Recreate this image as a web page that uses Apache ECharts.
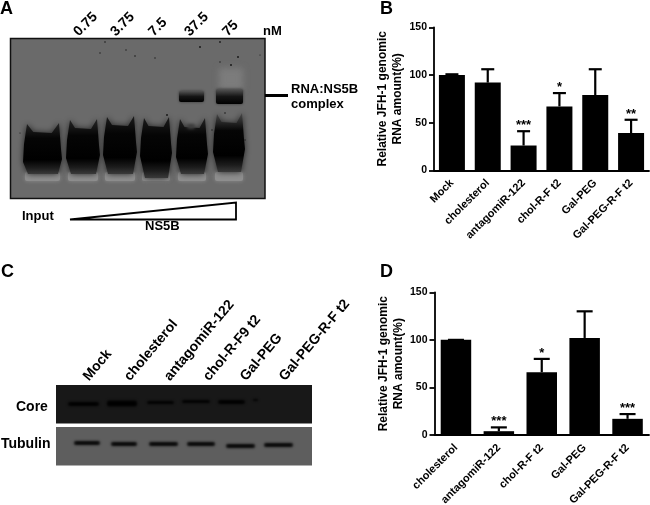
<!DOCTYPE html>
<html>
<head>
<meta charset="utf-8">
<style>
  html, body { margin: 0; padding: 0; background: #fff; }
  #chart { width: 650px; height: 505px; filter: blur(0.4px); }
</style>
<script src="https://cdn.jsdelivr.net/npm/echarts@6/dist/echarts.min.js"></script>
</head>
<body>
<div id="chart"></div>
<script>
const font = '"Liberation Sans", Arial, sans-serif'

// panel B
const categoriesB = ['Mock', 'cholesterol', 'antagomiR-122', 'chol-R-F t2', 'Gal-PEG', 'Gal-PEG-R-F t2']
const valuesB = [100, 92, 26, 67, 79, 39]
const upperB = [100.7, 106, 41, 81, 106, 53]
const starsB = ['', '', '***', '*', '', '**']

// panel D
const categoriesD = ['cholesterol', 'antagomiR-122', 'chol-R-F t2', 'Gal-PEG', 'Gal-PEG-R-F t2']
const valuesD = [100, 4, 66, 102, 17]
const upperD = [100, 8, 80, 130, 22]
const starsD = ['', '***', '*', '', '***']

const yTicks = [0, 50, 100, 150]

// panel A / C text
const doseLabels = ['0.75', '3.75', '7.5', '37.5', '75']
const blotLabels = ['Mock', 'cholesterol', 'antagomiR-122', 'chol-R-F9 t2', 'Gal-PEG', 'Gal-PEG-R-F t2']

function txt(text, x, y, size, extra) {
  return Object.assign({
    type: 'text',
    x: x,
    y: y,
    z: 20,
    style: Object.assign({
      text: text,
      font: 'bold ' + size + 'px ' + font,
      fill: '#000',
      align: 'left',
      verticalAlign: 'middle'
    }, extra && extra.style)
  }, extra && extra.props)
}

// soft blob: shape is drawn off canvas, only its blurred shadow shows
function blob(x, y, w, h, color, blur, z, r) {
  return {
    type: 'rect',
    z: z,
    shape: { x: x - 2000, y: y, width: w, height: h, r: r === undefined ? 2 : r },
    style: { fill: '#000', shadowColor: color, shadowBlur: blur, shadowOffsetX: 2000 }
  }
}

function box(x, y, w, h, fill, stroke, z) {
  return {
    type: 'rect',
    z: z,
    shape: { x: x, y: y, width: w, height: h },
    style: { fill: fill, stroke: stroke || null, lineWidth: stroke ? 1.5 : 0 }
  }
}

function dot(x, y, r) {
  return { type: 'circle', z: 8, shape: { cx: x, cy: y, r: r }, style: { fill: '#1a1a1a' } }
}

function lanePoly(x0, x1, top, bottom) {
  const w = x1 - x0
  return [
    [x0 + 3, top], [x0 + w * 0.25, top + 8], [x0 + w * 0.75, top + 9], [x1 - 2, top - 1],
    [x1, top + 25], [x1 + 1, top + 35], [x1 - 3, bottom], [x0 + 4, bottom], [x0 - 1, top + 38], [x0, top + 20]
  ]
}

// dark lane body: solid gradient fill with a soft halo round it
function lane(l, topColor) {
  return {
    type: 'polygon',
    z: 4,
    shape: { points: lanePoly(l[0], l[1], l[2], l[3]) },
    style: {
      fill: new echarts.graphic.LinearGradient(0, 0, 0, 1, [
        { offset: 0, color: topColor },
        { offset: 0.3, color: '#050505' },
        { offset: 0.72, color: '#000' },
        { offset: 0.88, color: '#1c1c1c' },
        { offset: 1, color: '#3a3a3a' }
      ]),
      shadowColor: '#222',
      shadowBlur: 6
    }
  }
}

function softBand(x, y, w, h, color, blur, z) {
  return {
    type: 'rect',
    z: z,
    shape: { x: x, y: y, width: w, height: h, r: 2 },
    style: { fill: color, shadowColor: color, shadowBlur: blur }
  }
}

function complexBand(x, y, w, h) {
  return {
    type: 'rect',
    z: 5,
    shape: { x: x, y: y, width: w, height: h, r: 2 },
    style: {
      fill: new echarts.graphic.LinearGradient(0, 0, 0, 1, [
        { offset: 0, color: '#555' },
        { offset: 0.5, color: '#151515' },
        { offset: 1, color: '#000' }
      ]),
      shadowColor: '#333',
      shadowBlur: 3
    }
  }
}

function gelGraphics() {
  const g = [box(10.5, 38.5, 254.5, 160, '#6a6a6a', '#111', 1)]
  // free RNA smear per lane: [left, right, top, bottom, colour of the top]
  const lanes = [
    [24, 61, 124, 174, '#262626'],
    [67, 99, 120, 174, '#262626'],
    [104, 136, 117, 174, '#1c1c1c'],
    [141, 171, 118, 178, '#1c1c1c'],
    [177, 207, 119, 174, '#242424'],
    [214, 244, 114, 172, '#4a4a4a']
  ]
  lanes.forEach(l => {
    g.push(softBand(l[0] + 1, 172, l[1] - l[0] - 2, 9, '#8e8e8e', 4, 2))
    g.push(lane(l, l[4]))
  })
  // pale spot in lane 5 and smear above the last lane
  g.push(blob(187, 124, 8, 5, '#3c3c3c', 3, 6))
  g.push(blob(219, 68, 24, 22, '#7c7c7c', 6, 2))
  // complex bands
  g.push(complexBand(179, 91, 25, 11))
  g.push(complexBand(216, 89, 27, 15))
  // specks on the gel
  ;[[105, 42, 0.8], [100, 53, 0.7], [126, 50, 0.7], [135, 56, 0.8], [155, 58, 0.7], [200, 47, 1],
    [220, 42, 0.9], [238, 57, 1], [231, 65, 1], [220, 62, 0.7], [167, 115, 1], [20, 133, 0.6],
    [245, 140, 0.7], [212, 130, 0.7], [225, 113, 0.8], [260, 55, 0.6]
  ].forEach(s => g.push(dot(s[0], s[1], s[2])))

  g.push(txt('A', 0, 9, 18))
  const xs = [76, 113, 151, 187, 225]
  doseLabels.forEach((t, i) => {
    g.push(txt(t, xs[i], 34, 14, { props: { rotation: Math.PI / 4 } }))
  })
  g.push(txt('nM', 263, 31, 13))
  g.push(txt('RNA:NS5B', 291, 89, 13))
  g.push(txt('complex', 291, 104, 13))
  g.push({ type: 'line', z: 9, shape: { x1: 265, y1: 95.5, x2: 288, y2: 95.5 }, style: { stroke: '#000', lineWidth: 3 } })

  g.push({
    type: 'polygon',
    z: 9,
    shape: { points: [[70, 219.5], [236, 202.5], [236, 219.5]] },
    style: { fill: '#fff', stroke: '#000', lineWidth: 1.8 }
  })
  g.push(txt('Input', 22, 216, 13))
  g.push(txt('NS5B', 145, 226, 13))
  return g
}

function blotGraphics() {
  const g = [box(56, 385, 256, 38.5, '#181818', null, 1), box(56, 427, 256, 38.5, '#5e5e5e', null, 1)]
  ;[[68, 402, 31, 4], [107, 400.5, 30, 6], [147, 401, 27, 3], [182, 400, 28, 3], [218, 400, 27, 4], [253, 399, 5, 2]].forEach(b => {
    g.push(blob(b[0], b[1], b[2], b[3], '#000', 2.5, 3))
  })
  ;[[74, 441, 26, 4], [111, 442, 26, 4], [149, 442, 29, 4], [187, 442, 28, 4], [226, 444, 29, 4], [264, 443, 29, 4]].forEach(b => {
    g.push(blob(b[0], b[1], b[2], b[3], '#050505', 2.5, 3))
  })
  g.push(txt('C', 1, 272, 18))
  g.push(txt('Core', 16, 407, 14))
  g.push(txt('Tubulin', 1, 444, 14))
  const xs = [86, 127, 167, 206, 243, 282]
  blotLabels.forEach((t, i) => {
    g.push(txt(t, xs[i], 379, 14, { props: { rotation: 50 * Math.PI / 180 } }))
  })
  return g
}

function errorItem(upper, stars, capW) {
  return function (params, api) {
    const i = api.value(0)
    const top = api.coord([i, upper[i]])
    const base = api.coord([i, api.value(1)])
    const line = (x1, y1, x2, y2) => ({
      type: 'line',
      shape: { x1: x1, y1: y1, x2: x2, y2: y2 },
      style: { stroke: '#000', lineWidth: 2.2 }
    })
    const children = [
      line(top[0], base[1], top[0], top[1]),
      line(top[0] - capW / 2, top[1], top[0] + capW / 2, top[1])
    ]
    if (stars[i]) {
      children.push({
        type: 'text',
        style: {
          text: stars[i],
          x: top[0],
          y: top[1] + 1,
          align: 'center',
          verticalAlign: 'bottom',
          font: 'bold 13px ' + font,
          fill: '#000'
        }
      })
    }
    return { type: 'group', children: children }
  }
}

function axes(index, categories) {
  return {
    x: {
      type: 'category',
      gridIndex: index,
      data: categories,
      axisLine: { lineStyle: { color: '#000', width: 1.8 } },
      axisTick: { alignWithLabel: true, length: 5, lineStyle: { color: '#000', width: 1.8 } },
      axisLabel: {
        interval: 0,
        rotate: 45,
        margin: 11,
        color: '#000',
        fontFamily: font,
        fontWeight: 'bold',
        fontSize: 11
      }
    },
    y: {
      type: 'value',
      gridIndex: index,
      min: 0,
      max: 150,
      interval: 50,
      name: 'Relative JFH-1 genomic\nRNA amount(%)',
      nameLocation: 'middle',
      nameGap: 21,
      nameTextStyle: { color: '#000', fontFamily: font, fontWeight: 'bold', fontSize: 12, lineHeight: 15 },
      splitLine: { show: false },
      axisLine: { show: true, lineStyle: { color: '#000', width: 1.8 } },
      axisTick: { show: true, length: 5, lineStyle: { color: '#000', width: 1.8 } },
      axisLabel: {
        margin: 7,
        color: '#000',
        fontFamily: font,
        fontWeight: 'bold',
        fontSize: 10.5,
        customValues: yTicks
      }
    }
  }
}

const b = axes(0, categoriesB)
const d = axes(1, categoriesD)

const chart = echarts.init(document.getElementById('chart'), null, { renderer: 'canvas' })
chart.setOption({
  animation: false,
  backgroundColor: '#fff',
  textStyle: { fontFamily: font },
  grid: [
    { left: 434, top: 27.3, width: 215, height: 143, outerBoundsMode: 'none' },
    { left: 434.5, top: 292.3, width: 214.5, height: 142.7, outerBoundsMode: 'none' }
  ],
  xAxis: [b.x, d.x],
  yAxis: [b.y, d.y],
  series: [
    {
      type: 'custom',
      xAxisIndex: 0,
      yAxisIndex: 0,
      z: 1,
      data: valuesB.map((v, i) => [i, v]),
      renderItem: errorItem(upperB, starsB, 13)
    },
    {
      type: 'bar',
      xAxisIndex: 0,
      yAxisIndex: 0,
      z: 2,
      barWidth: 26,
      itemStyle: { color: '#000' },
      data: valuesB
    },
    {
      type: 'custom',
      xAxisIndex: 1,
      yAxisIndex: 1,
      z: 1,
      data: valuesD.map((v, i) => [i, v]),
      renderItem: errorItem(upperD, starsD, 16)
    },
    {
      type: 'bar',
      xAxisIndex: 1,
      yAxisIndex: 1,
      z: 2,
      barWidth: 30.5,
      itemStyle: { color: '#000' },
      data: valuesD
    }
  ],
  graphic: { elements: [
    txt('B', 380, 9, 18),
    txt('D', 380, 272, 18)
  ].concat(gelGraphics(), blotGraphics()) }
})
</script>
</body>
</html>
